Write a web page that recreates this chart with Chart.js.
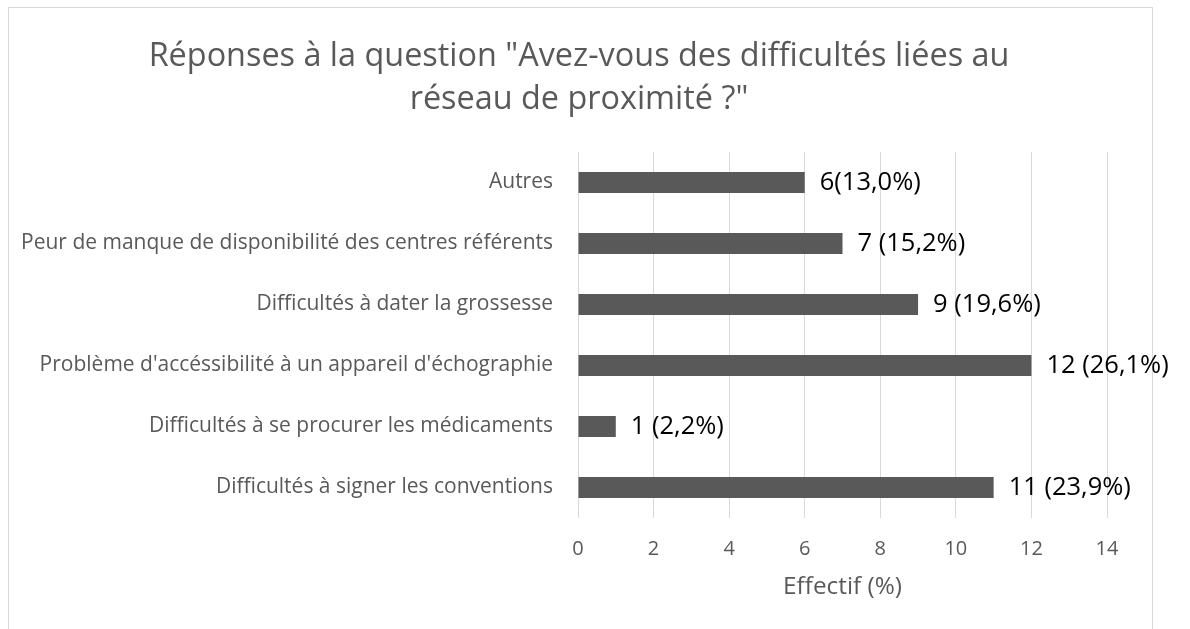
<!DOCTYPE html>
<html>
<head>
<meta charset="utf-8">
<script src="https://cdn.jsdelivr.net/npm/chart.js@4.4.0/dist/chart.umd.min.js"></script>
<style>
  html, body { margin: 0; padding: 0; background: #fff; }
  #cadre { position: absolute; left: 8px; top: 7px; width: 1143px; height: 700px; border: 1px solid #d9d9d9; }
  #zone { position: absolute; left: 0; top: 0; width: 1190px; height: 629px; }
</style>
</head>
<body>
<div id="cadre"></div>
<div id="zone"><canvas id="graphique"></canvas></div>
<script>
const titre = ['Réponses à la question "Avez-vous des difficultés liées au', 'réseau de proximité ?"'];
const categories = [
    'Autres',
    'Peur de manque de disponibilité des centres référents',
    'Difficultés à dater la grossesse',
    "Problème d'accéssibilité à un appareil d'échographie",
    'Difficultés à se procurer les médicaments',
    'Difficultés à signer les conventions'
];
const effectifs = [6, 7, 9, 12, 1, 11];
const etiquettes = ['6(13,0%)', '7 (15,2%)', '9 (19,6%)', '12 (26,1%)', '1 (2,2%)', '11 (23,9%)'];
const xMin = 0;
const xMax = 14;
const xPas = 2;

const police = '"Open Sans", Lato, sans-serif';
const gris = '#595959';

// titre centré sur le cadre
const titrePlugin = {
    id: 'titre',
    afterDraw(chart) {
        const ctx = chart.ctx;
        ctx.save();
        ctx.font = '32.4px ' + police;
        ctx.fillStyle = gris;
        ctx.textAlign = 'center';
        ctx.textBaseline = 'middle';
        ctx.fillText(titre[0], 579, 57);
        ctx.fillText(titre[1], 579, 100);
        ctx.restore();
    }
};

// étiquettes de valeur à droite des barres
const etiquettesPlugin = {
    id: 'etiquettes',
    afterDatasetsDraw(chart) {
        const ctx = chart.ctx;
        const meta = chart.getDatasetMeta(0);
        ctx.save();
        ctx.font = '25.5px ' + police;
        ctx.fillStyle = '#000';
        ctx.textAlign = 'left';
        ctx.textBaseline = 'middle';
        meta.data.forEach((barre, i) => {
            ctx.fillText(etiquettes[i], barre.x + 15, barre.y);
        });
        ctx.restore();
    }
};

document.addEventListener('DOMContentLoaded', () => {
    const ctx = document.getElementById('graphique').getContext('2d');
    new Chart(ctx, {
        type: 'bar',
        data: {
            labels: categories,
            datasets: [{
                data: effectifs,
                backgroundColor: gris,
                borderWidth: 0,
                barPercentage: 0.345,
                categoryPercentage: 1
            }]
        },
        options: {
            indexAxis: 'y',
            responsive: true,
            maintainAspectRatio: false,
            animation: false,
            layout: { padding: { left: 0, right: 83, top: 152, bottom: 0 } },
            plugins: {
                legend: { display: false },
                tooltip: { enabled: false },
                title: { display: false }
            },
            scales: {
                x: {
                    min: xMin,
                    max: xMax,
                    ticks: { stepSize: xPas, color: gris, padding: 19, font: { family: police, size: 20 } },
                    grid: { color: '#d9d9d9', drawTicks: false },
                    border: { display: false },
                    title: {
                        display: true,
                        text: 'Effectif (%)',
                        color: gris,
                        font: { family: police, size: 24.3 },
                        padding: { top: 10, bottom: 27.5 }
                    },
                    afterFit(scale) { scale.height = 111; }
                },
                y: {
                    ticks: { color: gris, padding: 25, font: { family: police, size: 21 } },
                    grid: { display: false, drawTicks: false },
                    border: { display: false },
                    afterFit(scale) { scale.width = 578; }
                }
            }
        },
        plugins: [etiquettesPlugin, titrePlugin]
    });
});
</script>
</body>
</html>
